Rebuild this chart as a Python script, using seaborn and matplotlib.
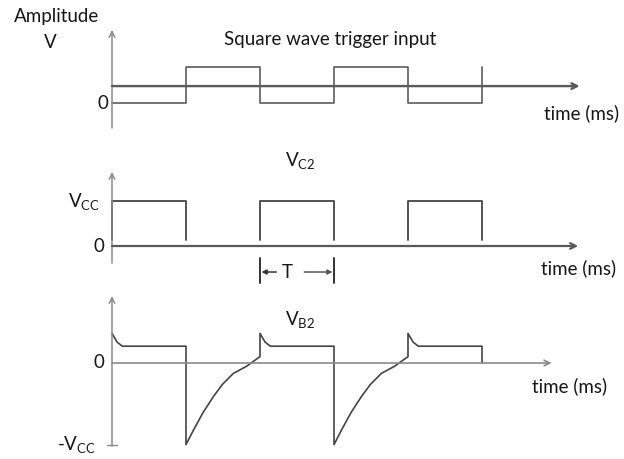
import matplotlib
matplotlib.use("Agg")
import matplotlib.pyplot as plt
import seaborn as sns
import pandas as pd

# ---------------- data (time in half-periods, amplitude in units) ----------------
trigger_t = [0, 1, 1, 2, 2, 3, 3, 4, 4, 5, 5]
trigger_v = [0, 0, 1, 1, 0, 0, 1, 1, 0, 0, 1]
trigger_ref = 0.47

vc2_starts = [0, 2, 4]
vc2_ends = [1, 3, 5]
vc2_high = 1.0
vc2_low = 0.13

vb2_t = [0, 0.07, 0.14, 1, 1, 1.1, 1.23, 1.37, 1.49, 1.64, 1.82, 2,
         2, 2.07, 2.14, 3, 3, 3.1, 3.23, 3.37, 3.49, 3.64, 3.82, 4,
         4, 4.07, 4.14, 5, 5]
vb2_v = [0.37, 0.26, 0.21, 0.21, -1.02, -0.84, -0.62, -0.42, -0.27, -0.13, -0.04, 0.08,
         0.37, 0.26, 0.21, 0.21, -1.02, -0.84, -0.62, -0.42, -0.27, -0.13, -0.04, 0.08,
         0.37, 0.26, 0.21, 0.21, 0.0]

period_marks = [2, 3]

# ---------------- style ----------------
sns.set_style("white")
plt.rcParams['font.family'] = ['Lato', 'DejaVu Sans']
plt.rcParams['mathtext.fontset'] = 'custom'
plt.rcParams['mathtext.rm'] = 'Lato'
plt.rcParams['mathtext.it'] = 'Lato:italic'

W, H = 624, 459
fig = plt.figure(figsize=(W / 100, H / 100), dpi=100)
fig.patch.set_facecolor('white')

X0, PX_T = 112, 74.0
xlim = (-X0 / PX_T, (W - X0) / PX_T)


def make_axes(top_px, bot_px, zero_px, unit_px):
    ax = fig.add_axes([0, 1 - bot_px / H, 1, (bot_px - top_px) / H])
    ax.set_xlim(*xlim)
    ax.set_ylim((zero_px - bot_px) / unit_px, (zero_px - top_px) / unit_px)
    ax.axis('off')
    return ax


WAVE = '#444444'
AXC = '#8a8a8a'
TXT = '#161616'
FS = 13.5


def arrow(ax, x0, y0, x1, y1, color=AXC, lw=1.1, style='->', ms=10):
    ax.annotate('', xy=(x1, y1), xytext=(x0, y0),
                arrowprops=dict(arrowstyle=style, color=color, lw=lw,
                                shrinkA=0, shrinkB=0, mutation_scale=ms))

# ---------------- panel 1: trigger ----------------
ax1 = make_axes(0, 135, 103, 36)
arrow(ax1, 0, -0.69, 0, 2.03)
arrow(ax1, 0, trigger_ref, 6.32, trigger_ref, color='#5a5a5a', lw=1.7)
sns.lineplot(x=trigger_t, y=trigger_v, sort=False, estimator=None, ax=ax1,
             color='#5c5c5c', lw=1.2)
ax1.text(-0.743, 2.39, 'Amplitude', ha='center', va='center', fontsize=FS, color=TXT)
ax1.text(-0.84, 1.67, 'V', ha='center', va='center', fontsize=FS, color=TXT)
ax1.text(-0.05, 0, '0', ha='right', va='center', fontsize=FS, color=TXT)
ax1.text(2.95, 1.75, 'Square wave trigger input', ha='center', va='center', fontsize=FS, color=TXT)
ax1.text(6.34, -0.28, 'time (ms)', ha='center', va='center', fontsize=FS, color=TXT)

# ---------------- panel 2: VC2 ----------------
ax2 = make_axes(140, 290, 246, 45)
arrow(ax2, 0, -0.378, 0, 1.644)
arrow(ax2, 0, 0, 6.3, 0, color='#5a5a5a', lw=1.6)
for s, e in zip(vc2_starts, vc2_ends):
    sns.lineplot(x=[s, s, e, e], y=[vc2_low, vc2_high, vc2_high, vc2_low], sort=False,
                 estimator=None, ax=ax2, color=WAVE, lw=1.3)
ax2.text(2.54, 1.91, r'$\mathrm{V_{C2}}$', ha='center', va='center', fontsize=FS, color=TXT)
ax2.text(-0.16, 0.98, r'$\mathrm{V_{CC}}$', ha='right', va='center', fontsize=FS, color=TXT)
ax2.text(-0.1, 0, '0', ha='right', va='center', fontsize=FS, color=TXT)
ax2.text(6.3, -0.49, 'time (ms)', ha='center', va='center', fontsize=FS, color=TXT)
for m in period_marks:
    ax2.plot([m, m], [-0.267, -0.82], color='#333333', lw=1.4)
arrow(ax2, 2.22, -0.578, 2.02, -0.578, color='#333333', lw=1.1, style='-|>', ms=7)
arrow(ax2, 2.6, -0.578, 2.98, -0.578, color='#555555', lw=1.1, style='-|>', ms=7)
ax2.text(2.37, -0.578, 'T', ha='center', va='center', fontsize=FS, color=TXT)

# ---------------- panel 3: VB2 ----------------
ax3 = make_axes(290, 459, 363, 80)
arrow(ax3, 0, -1.04, 0, 0.8375)
ax3.plot([-0.07, 0.07], [-1.025, -1.025], color=AXC, lw=1.0)
arrow(ax3, 0, 0, 5.94, 0, color='#8a8a8a', lw=1.2)
sns.lineplot(x=vb2_t, y=vb2_v, sort=False, estimator=None, ax=ax3, color=WAVE, lw=1.2)
ax3.text(2.54, 0.54, r'$\mathrm{V_{B2}}$', ha='center', va='center', fontsize=FS, color=TXT)
ax3.text(-0.1, 0, '0', ha='right', va='center', fontsize=FS, color=TXT)
ax3.text(-0.22, -1.02, r'-$\mathrm{V_{CC}}$', ha='right', va='center', fontsize=FS, color=TXT)
ax3.text(6.19, -0.29, 'time (ms)', ha='center', va='center', fontsize=FS, color=TXT)

fig.savefig('out.png', dpi=100, facecolor='white')
